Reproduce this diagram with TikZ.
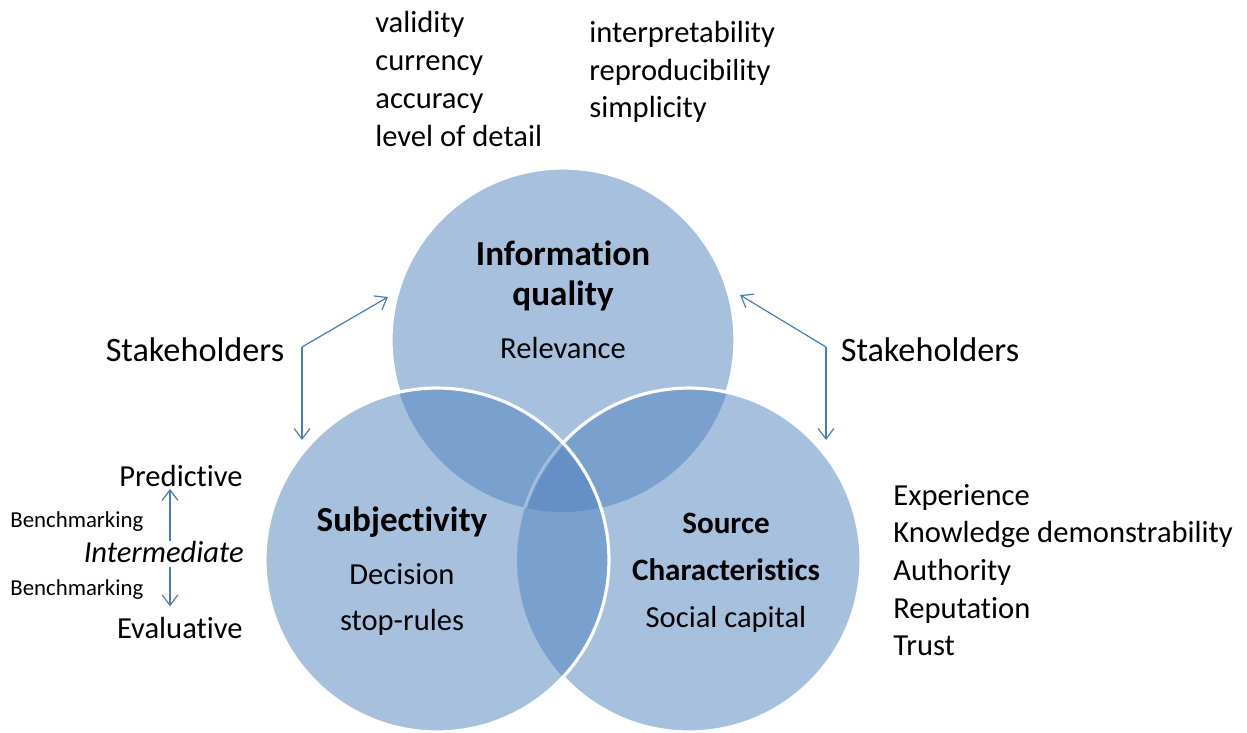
\documentclass[tikz,border=0pt]{standalone}
\usepackage{fontspec}
\setmainfont{Carlito}[RawFeature={-liga;-clig;-calt;-dlig}]
\usetikzlibrary{arrows.meta}
\usetikzlibrary{positioning}

\definecolor{vennblue}{HTML}{4F81BD}
\definecolor{linkblue}{HTML}{4A7EBB}
\def\vr{3.44cm}

\tikzset{
  venn/.style={fill=vennblue, fill opacity=0.5},
  vennline/.style={draw=white, line width=1.8pt},
  link/.style={draw=linkblue, line width=0.7pt, -{Straight Barb[length=6pt,width=9pt]}},
  item/.style={inner sep=0pt, font=\fontsize{17.4}{21.5}\selectfont},
  listing/.style={item, align=left, anchor=west},
  heading/.style={inner sep=0pt, align=center, font=\fontsize{20}{22.7}\selectfont\bfseries},
  side/.style={inner sep=0pt, font=\fontsize{19.5}{22}\selectfont},
  tiny/.style={inner sep=0pt, anchor=west, font=\fontsize{13}{15}\selectfont},
}

\begin{document}
\begin{tikzpicture}[x=0.02cm, y=-0.02cm]
    \useasboundingbox (0,0) rectangle (1247,733);
    % the three circles
    \coordinate (cTop) at (563,340);
    \coordinate (cLeft) at (437,560);
    \coordinate (cRight) at (689,560);
    \fill[venn] (cTop) circle (\vr);
    \fill[venn] (cRight) circle (\vr);
    \fill[venn] (cLeft) circle (\vr);
    % white rims
    \begin{scope}
        \clip (cTop) circle (\vr);
        \clip (cLeft) circle (\vr);
        \draw[vennline, draw opacity=0.35] (cRight) circle (\vr);
    \end{scope}
    \draw[vennline] (cLeft) circle (\vr);
    \begin{scope}[even odd rule]
        \clip (0,0) rectangle (1247,733) (cLeft) circle (\vr);
        \draw[vennline] (cRight) circle (\vr);
    \end{scope}
    \begin{scope}[even odd rule]
        \clip (0,0) rectangle (1247,733) (cLeft) circle (\vr);
        \clip (0,0) rectangle (1247,733) (cRight) circle (\vr);
        \draw[vennline] (cTop) circle (\vr);
    \end{scope}

    % texts in the circles
    \node[heading] (iq) at (563,276) {Information\\quality};
    \node[item] (relev) at (563,348) {Relevance};
    \node[heading] (subj) at (402,522) {Subjectivity};
    \node[item] (dec) at (402,574) {Decision};
    \node[item] (stop) at (402,622) {stop-rules};
    \node[heading, font=\fontsize{17.7}{21.5}\selectfont\bfseries] (src) at (726,523) {Source};
    \node[heading, font=\fontsize{17.7}{21.5}\selectfont\bfseries] (chars) at (726,570) {Characteristics};
    \node[item] (social) at (726,619) {Social capital};

    % lists
    \node[listing] (qlist) at (375,79) {validity\\currency\\accuracy\\level of detail};
    \node[listing] (ilist) at (589,72) {interpretability\\reproducibility\\simplicity};
    \node[listing, font=\fontsize{17.4}{21.4}\selectfont] (slist) at (893,570) {Experience\\Knowledge demonstrability\\Authority\\Reputation\\Trust};

    % stakeholders
    \node[side] (stL) at (195,350) {Stakeholders};
    \node[side] (stR) at (930,350) {Stakeholders};
    \coordinate (skL) at (302,347);
    \coordinate (skLup) at (388,297);
    \coordinate (skLdn) at (302,440);
    \coordinate (skR) at (826,347);
    \coordinate (skRup) at (740,295);
    \coordinate (skRdn) at (826,440);
    \draw[link] (skL) -- (skLup);
    \draw[link] (skL) -- (skLdn);
    \draw[link] (skR) -- (skRup);
    \draw[link] (skR) -- (skRdn);

    % scale on the left
    \node[item, anchor=east] (pred) at (243,476) {Predictive};
    \node[item, anchor=east, font=\fontsize{17.4}{21.5}\selectfont\itshape] (inter) at (244,552) {Intermediate};
    \node[item, anchor=east] (evalu) at (243,628) {Evaluative};
    \node[tiny] (bmA) at (10,522) {Benchmarking};
    \node[tiny] (bmB) at (10,590) {Benchmarking};
    \coordinate (bmx) at (170,0);
    \draw[link, shorten >=1pt] (inter.north -| bmx) -- (pred.south -| bmx);
    \draw[link, shorten >=6pt, shorten <=2pt] (inter.south -| bmx) -- (evalu.north -| bmx);
\end{tikzpicture}
\end{document}
